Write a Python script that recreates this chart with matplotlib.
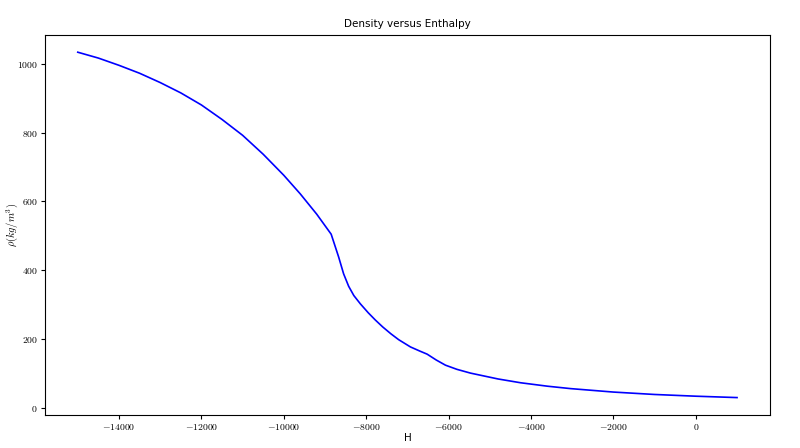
import matplotlib
matplotlib.use("Agg")
import matplotlib.pyplot as plt
from matplotlib.ticker import FuncFormatter

plt.rcParams['mathtext.fontset'] = 'cm'

# enthalpy (J/kg) and density (kg/m^3)
enthalpy = [-15000, -14500, -14000, -13500, -13000, -12500, -12000, -11500,
            -11000, -10500, -10000, -9600, -9200, -8850,
            -8669, -8548, -8426, -8300, -8142, -7950, -7778, -7600, -7400,
            -7212, -6927, -6700, -6521, -6300, -6076, -5800, -5469,
            -4800, -4253, -3600, -3038, -2000, -1000, 0, 1000]
density = [1033, 1016, 995, 972, 945, 915, 880, 838,
           792, 737, 676, 622, 563, 505,
           439, 390, 354, 327, 303, 277, 256, 236, 216,
           199, 178, 166, 157, 140, 125, 113, 102,
           85, 74, 64, 57, 47, 40, 35, 31]

fig = plt.figure(figsize=(8, 4.48), dpi=100)
ax = fig.add_axes([0.056, 0.074, 0.9065, 0.848])
ax.plot(enthalpy, density, color='blue', linewidth=1.2)

ax.set_title("Density versus Enthalpy", fontsize=7.5)
ax.set_xlabel("H", fontsize=7.5, labelpad=1)
ax.set_ylabel(r"$\rho (kg/m^3)$", fontsize=7.5)
ax.yaxis.set_label_coords(-0.034, 0.5)

ax.xaxis.set_major_formatter(FuncFormatter(lambda v, p: r"$%d$" % v))
ax.yaxis.set_major_formatter(FuncFormatter(lambda v, p: r"$%d$" % v))
ax.tick_params(labelsize=7, length=3, pad=2)

fig.savefig("out.png", dpi=100)
